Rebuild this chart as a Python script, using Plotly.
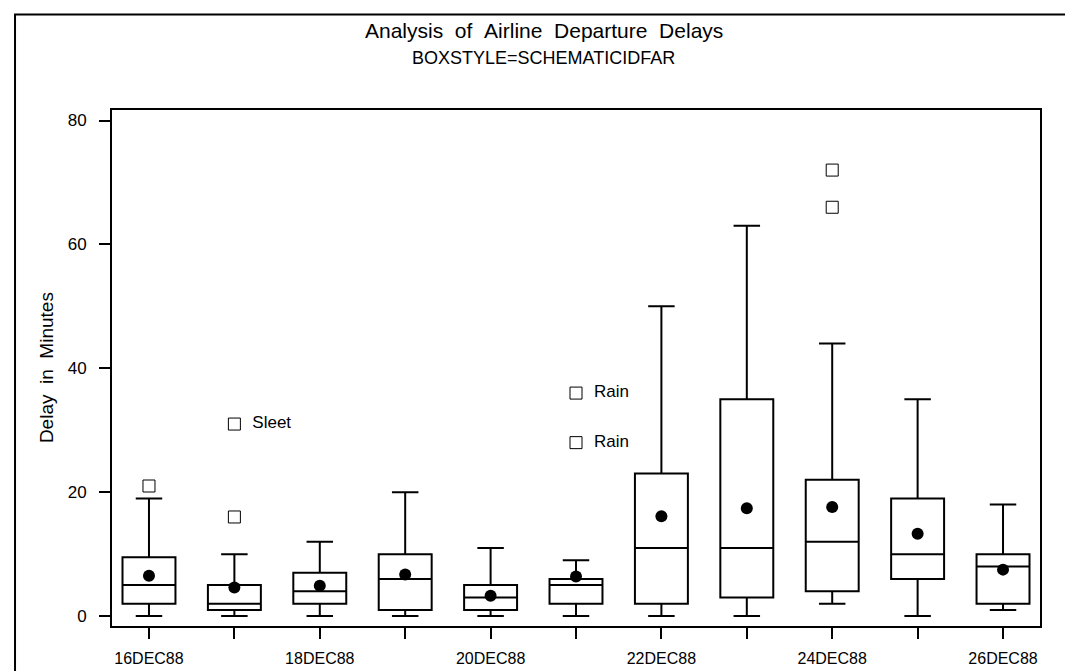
import plotly.graph_objects as go

# ---- data ----
dates = ["16DEC88", "17DEC88", "18DEC88", "19DEC88", "20DEC88", "21DEC88",
         "22DEC88", "23DEC88", "24DEC88", "25DEC88", "26DEC88"]
low_whisker = [0, 0, 0, 0, 0, 0, 0, 0, 2, 0, 1]
q1 = [2, 1, 2, 1, 1, 2, 2, 3, 4, 6, 2]
median = [5, 2, 4, 6, 3, 5, 11, 11, 12, 10, 8]
q3 = [9.5, 5, 7, 10, 5, 6, 23, 35, 22, 19, 10]
high_whisker = [19, 10, 12, 20, 11, 9, 50, 63, 44, 35, 18]
means = [6.5, 4.6, 4.9, 6.7, 3.3, 6.4, 16.1, 17.4, 17.6, 13.3, 7.5]

outlier_day = ["16DEC88", "17DEC88", "17DEC88", "21DEC88", "21DEC88", "24DEC88", "24DEC88"]
outlier_val = [21, 16, 31, 36, 28, 72, 66]
outlier_lab = ["", "", "Sleet", "Rain", "Rain", "", ""]

tick_labels = ["16DEC88", "", "18DEC88", "", "20DEC88", "", "22DEC88", "", "24DEC88", "", "26DEC88"]
y_ticks = [0, 20, 40, 60, 80]

title = "Analysis of Airline Departure Delays"
subtitle = "BOXSTYLE=SCHEMATICIDFAR"
y_title = "Delay in Minutes"

FONT = "Liberation Sans, Arial, Helvetica, sans-serif"
NB = "\u00a0"


def wide(s):
    # SAS renders word gaps wider than normal
    return s.replace(" ", NB + NB)


pos = {d: i for i, d in enumerate(dates)}
xs = [pos[d] for d in dates]

fig = go.Figure()

fig.add_trace(go.Box(
    x=xs, q1=q1, median=median, q3=q3,
    lowerfence=low_whisker, upperfence=high_whisker,
    width=0.62, whiskerwidth=0.5,
    fillcolor="rgba(0,0,0,0)",
    line=dict(color="black", width=2),
    boxpoints=False, showlegend=False, hoverinfo="skip",
))

fig.add_trace(go.Scatter(
    x=xs, y=means, mode="markers",
    marker=dict(symbol="circle", size=12, color="black"),
    showlegend=False, hoverinfo="skip",
))

fig.add_trace(go.Scatter(
    x=[pos[d] for d in outlier_day], y=outlier_val,
    mode="markers+text",
    text=[(NB * 2 + t) if t else "" for t in outlier_lab],
    textposition="middle right",
    textfont=dict(family=FONT, size=17, color="black"),
    marker=dict(symbol="square-open", size=12, color="black", line=dict(width=1)),
    showlegend=False, hoverinfo="skip",
))

fig.update_layout(
    width=1073, height=671,
    margin=dict(l=104, r=41, t=102, b=49),
    paper_bgcolor="white", plot_bgcolor="white",
    font=dict(family=FONT, size=16, color="black"),
    annotations=[
        dict(text=wide(title), x=0.465, y=1.155, xref="paper", yref="paper",
             showarrow=False, font=dict(size=21), xanchor="center", yanchor="middle"),
        dict(text=subtitle, x=0.465, y=1.1, xref="paper", yref="paper",
             showarrow=False, font=dict(size=18), xanchor="center", yanchor="middle"),
        dict(text=wide(y_title), x=-0.071, y=0.5, xref="paper", yref="paper",
             showarrow=False, textangle=-90, font=dict(size=19),
             xanchor="center", yanchor="middle"),
    ],
    shapes=[
        dict(type="rect", xref="paper", yref="paper",
             x0=-0.1045, x1=1.0366, y0=-0.15, y1=1.185,
             line=dict(color="black", width=2), fillcolor="rgba(0,0,0,0)", layer="below"),
    ],
)

fig.update_xaxes(
    range=[-0.433, 10.433], tickmode="array", tickvals=xs, ticktext=tick_labels,
    showgrid=False, zeroline=False, showline=True, mirror=True,
    linecolor="black", linewidth=2, ticks="outside", ticklen=11, tickwidth=2,
    tickcolor="black", ticklabelstandoff=6, tickfont=dict(size=16),
)
fig.update_yaxes(
    range=[-1.6, 81.7], tickmode="array", tickvals=y_ticks,
    showgrid=False, zeroline=False, showline=True, mirror=True,
    linecolor="black", linewidth=2, ticks="outside", ticklen=11, tickwidth=2,
    tickcolor="black", ticklabelstandoff=9, tickfont=dict(size=17),
)

fig.write_html("out.html")
